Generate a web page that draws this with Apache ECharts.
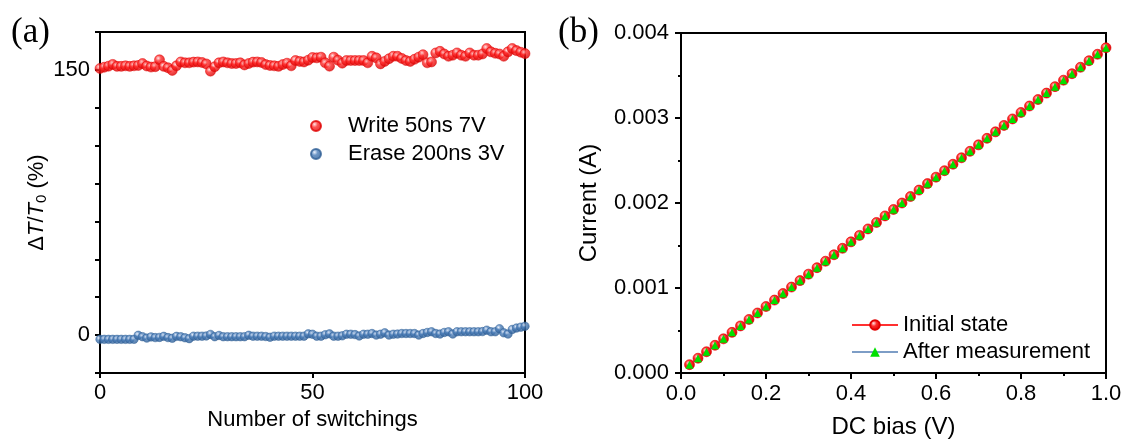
<!DOCTYPE html>
<html>
<head>
<meta charset="utf-8">
<script src="https://cdn.jsdelivr.net/npm/echarts@6/dist/echarts.min.js"></script>
<style>html,body{margin:0;padding:0;background:#fff}#c{width:1128px;height:444px}</style>
</head>
<body>
<div id="c"></div>
<script>
// ---- Panel (a): switching endurance ----
const switchings = Array.from({length: 101}, (_, i) => i); // cycle index 0..100
const writeVals = [
150.8,151.5,152.1,153.1,152.0,152.0,152.3,152.0,152.3,152.5,
153.6,152.2,151.6,151.8,155.7,152.0,151.2,149.7,152.3,154.5,
154.0,154.0,154.4,154.5,154.2,153.4,149.3,151.8,154.0,154.5,
154.0,153.6,153.6,154.0,152.8,153.6,154.4,154.5,154.2,153.0,
152.5,152.3,152.0,153.0,153.8,152.3,155.3,154.8,154.5,155.5,
157.0,156.8,157.2,154.0,152.1,157.2,155.5,153.8,155.3,155.3,
155.3,155.3,155.3,154.0,157.7,156.8,153.4,154.8,156.3,157.7,
157.7,156.5,155.3,154.8,156.0,157.2,158.6,154.0,154.5,159.6,
160.5,159.0,157.7,158.3,159.6,158.3,157.7,159.6,158.3,158.3,
159.0,162.1,160.2,159.4,159.0,157.7,160.2,162.1,160.9,160.0,
159.2];
const eraseVals = [
-2.4,-2.4,-2.4,-2.4,-2.4,-2.4,-2.4,-2.4,-2.4,-0.1,
-0.9,-1.7,-1.0,-1.4,-1.3,-0.7,-1.4,-1.8,-0.7,-0.9,
-1.5,-2.0,-0.6,-0.6,-0.6,-0.5,0.4,-0.9,-0.2,-0.9,
-0.9,-0.9,-0.9,-0.9,-0.9,-0.1,-0.6,-0.6,-0.6,-0.8,
-1.2,-0.6,-0.6,-0.6,-0.6,-0.6,-0.6,-0.6,-0.6,0.7,
0.5,-0.6,-0.6,0.2,0.7,-0.6,-0.6,-0.4,0.5,0.5,
0.3,-0.5,0.5,0.5,0.9,0.0,0.5,1.3,0.0,0.5,
0.6,0.9,0.9,0.9,0.9,0.0,0.9,1.5,1.9,0.9,
0.6,1.5,1.9,0.6,1.9,1.9,1.9,1.9,1.9,1.9,
2.0,2.8,1.9,1.9,3.6,1.3,0.6,3.2,4.0,4.5,
5.0];
const leftYTickLabels = ['0', '150'];

// ---- Panel (b): I-V ----
const biasV = [0.02,0.04,0.06,0.08,0.10,0.12,0.14,0.16,0.18,0.20,
0.22,0.24,0.26,0.28,0.30,0.32,0.34,0.36,0.38,0.40,
0.42,0.44,0.46,0.48,0.50,0.52,0.54,0.56,0.58,0.60,
0.62,0.64,0.66,0.68,0.70,0.72,0.74,0.76,0.78,0.80,
0.82,0.84,0.86,0.88,0.90,0.92,0.94,0.96,0.98,1.00];
const initialI = [0.000098,0.000174,0.000250,0.000326,0.000402,0.000478,0.000554,0.000630,0.000706,0.000782,
0.000858,0.000935,0.001011,0.001087,0.001163,0.001239,0.001315,0.001391,0.001467,0.001543,
0.001619,0.001695,0.001771,0.001848,0.001924,0.002000,0.002076,0.002152,0.002228,0.002304,
0.002380,0.002456,0.002532,0.002608,0.002684,0.002761,0.002837,0.002913,0.002989,0.003065,
0.003141,0.003217,0.003293,0.003369,0.003445,0.003521,0.003597,0.003674,0.003750,0.003826];
const afterI = [0.000098,0.000174,0.000250,0.000326,0.000402,0.000478,0.000554,0.000630,0.000706,0.000782,
0.000858,0.000935,0.001011,0.001087,0.001163,0.001239,0.001315,0.001391,0.001467,0.001543,
0.001619,0.001695,0.001771,0.001848,0.001924,0.002000,0.002076,0.002152,0.002228,0.002304,
0.002380,0.002456,0.002532,0.002608,0.002684,0.002761,0.002837,0.002913,0.002989,0.003065,
0.003141,0.003217,0.003293,0.003369,0.003445,0.003521,0.003597,0.003674,0.003750,0.003826];

const FONT = 'Liberation Sans';
const ball = (hi, mid, dark) => ({
  type: 'radial', x: 0.38, y: 0.35, r: 0.65,
  colorStops: [{offset: 0, color: hi}, {offset: 0.4, color: mid}, {offset: 1, color: dark}]
});
const redBall = ball('#ffe0e0', '#ff2a2a', '#d80000');
const blueBall = ball('#e8f0ff', '#4a7db8', '#2d5d95');

const axisLine = {show: true, onZero: false, lineStyle: {color: '#000', width: 2}};
const lab = {color: '#000', fontFamily: FONT, fontSize: 22};
const unit = 150 / 7;

const chart = echarts.init(document.getElementById('c'), null, {renderer: 'canvas'});
chart.setOption({
  animation: false,
  backgroundColor: '#fff',
  title: [
    {text: '(a)', left: 6, top: 10, textStyle: {fontFamily: 'Liberation Serif', fontSize: 35, fontWeight: 'normal', color: '#000'}},
    {text: '(b)', left: 553, top: 10, textStyle: {fontFamily: 'Liberation Serif', fontSize: 35, fontWeight: 'normal', color: '#000'}}
  ],
  grid: [
    {left: 100, right: 603, top: 32, bottom: 71, show: true, borderColor: '#000', borderWidth: 2, backgroundColor: 'transparent'},
    {left: 681, right: 22, top: 33, bottom: 67, show: true, borderColor: '#000', borderWidth: 2, backgroundColor: 'transparent'}
  ],
  legend: [
    {
      left: 305, top: 110, orient: 'vertical', itemWidth: 54, itemHeight: 10, itemGap: 6,
      data: ['Write 50ns 7V', 'Erase 200ns 3V'],
      textStyle: {fontFamily: FONT, fontSize: 22, color: '#000'}
    },
    {
      left: 846, top: 309, orient: 'vertical', itemWidth: 46, itemHeight: 12, itemGap: 5,
      data: ['Initial state', 'After measurement'],
      textStyle: {fontFamily: FONT, fontSize: 22, color: '#000'}
    }
  ],
  xAxis: [
    {
      gridIndex: 0, type: 'value', min: 0, max: 100, interval: 50,
      axisLine, splitLine: {show: false},
      axisTick: {show: true, inside: false, length: 5, lineStyle: {color: '#000', width: 2}},
      axisLabel: Object.assign({margin: 9}, lab),
      name: 'Number of switchings', nameLocation: 'middle', nameGap: 34,
      nameTextStyle: {fontFamily: FONT, fontSize: 22, color: '#000'}
    },
    {
      gridIndex: 1, type: 'value', min: 0, max: 1, interval: 0.2,
      axisLine, splitLine: {show: false},
      axisTick: {show: true, inside: false, length: 6, lineStyle: {color: '#000', width: 2}},
      minorTick: {show: true, splitNumber: 2, length: 3, lineStyle: {color: '#000', width: 2}},
      axisLabel: Object.assign({margin: 10, formatter: v => v.toFixed(1)}, lab),
      name: 'DC bias (V)', nameLocation: 'middle', nameGap: 42,
      nameTextStyle: {fontFamily: FONT, fontSize: 24, color: '#000'}
    }
  ],
  yAxis: [
    {
      gridIndex: 0, type: 'value', min: -unit, max: 8 * unit, interval: unit,
      axisLine, splitLine: {show: false},
      axisTick: {show: true, inside: false, length: 5, lineStyle: {color: '#000', width: 2}},
      axisLabel: Object.assign({margin: 10, formatter: v => {
        for (const t of leftYTickLabels) { if (Math.abs(v - Number(t)) < 0.01) return t; }
        return '';
      }}, lab),
      name: '{d|Δ}{i|T}{n|/}{i|T}{s|0}{n| (%)}', nameLocation: 'middle', nameGap: 50,
      nameTextStyle: {
        fontFamily: FONT, fontSize: 22, color: '#000',
        rich: {
          d: {fontFamily: FONT, fontSize: 22, color: '#000'},
          n: {fontFamily: FONT, fontSize: 22, color: '#000'},
          i: {fontFamily: FONT, fontSize: 22, fontStyle: 'italic', color: '#000'},
          s: {fontFamily: FONT, fontSize: 15, color: '#000', padding: [10, 0, 0, 0]}
        }
      }
    },
    {
      gridIndex: 1, type: 'value', min: 0, max: 0.004, interval: 0.001,
      axisLine, splitLine: {show: false},
      axisTick: {show: true, inside: false, length: 6, lineStyle: {color: '#000', width: 2}},
      minorTick: {show: true, splitNumber: 2, length: 3, lineStyle: {color: '#000', width: 2}},
      axisLabel: Object.assign({margin: 12, formatter: v => v.toFixed(3)}, lab),
      name: 'Current (A)', nameLocation: 'middle', nameGap: 80,
      nameTextStyle: {fontFamily: FONT, fontSize: 24, color: '#000'}
    }
  ],
  series: [
    {
      name: 'Write 50ns 7V', type: 'scatter', xAxisIndex: 0, yAxisIndex: 0,
      symbol: 'circle', symbolSize: 10,
      itemStyle: {color: redBall, borderColor: '#e00000', borderWidth: 0.6},
      data: switchings.map((x, i) => [x, writeVals[i]])
    },
    {
      name: 'Erase 200ns 3V', type: 'scatter', xAxisIndex: 0, yAxisIndex: 0,
      symbol: 'circle', symbolSize: 8.5,
      itemStyle: {color: blueBall, borderColor: '#2f5f96', borderWidth: 0.6},
      data: switchings.map((x, i) => [x, eraseVals[i]])
    },
    {
      name: 'Initial state', type: 'line', xAxisIndex: 1, yAxisIndex: 1,
      symbol: 'circle', symbolSize: 10, showSymbol: true,
      lineStyle: {color: '#ff3030', width: 1.2},
      itemStyle: {color: redBall, borderColor: '#e00000', borderWidth: 0.6},
      data: biasV.map((x, i) => [x, initialI[i]])
    },
    {
      name: 'After measurement', type: 'line', xAxisIndex: 1, yAxisIndex: 1,
      symbol: 'triangle', symbolSize: 8, showSymbol: true,
      lineStyle: {color: '#7d9dc6', width: 1.8},
      itemStyle: {color: '#00e000', borderWidth: 0},
      data: biasV.map((x, i) => [x, afterI[i]])
    }
  ]
});
</script>
</body>
</html>
